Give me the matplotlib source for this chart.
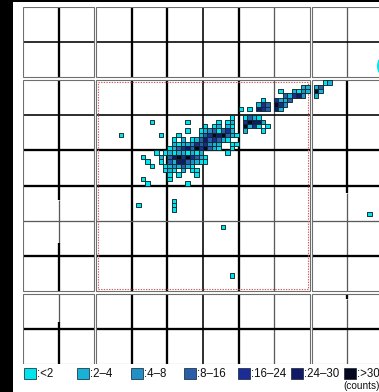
import matplotlib
matplotlib.use("Agg")
import matplotlib.pyplot as plt
from matplotlib.patches import Rectangle, Ellipse
from matplotlib.collections import PatchCollection
from matplotlib.colors import ListedColormap, BoundaryNorm
import numpy as np

W, H, DPI = 379, 392, 100

# ---------------- data: 2D histogram bins (u, v, counts) ----------------
# u, v are fine-bin indices inside the central block (8 bins per grid cell)
isolated = [(5, 35, 1), (12, 38, 1), (14, 35, 1), (20, 38, 1), (20, 36, 1),
            (32, 41, 1), (34, 41, 1), (9, 19, 1), (17, 20, 1), (17, 19, 1),
            (17, 18, 1), (28, 14, 1), (30, 3, 1), (61, 17, 1), (29, 31, 1),
            (24, 30, 1), (24, 29, 1)]

cluster_c2 = [(23, 36, 1), (18, 35, 1), (23, 35, 2),
              (17, 34, 1), (19, 34, 2), (21, 34, 1), (22, 34, 3), (23, 34, 12),
              (17, 33, 2), (18, 33, 1), (19, 33, 3), (20, 33, 2), (21, 33, 5),
              (22, 33, 20), (23, 33, 10),
              (16, 32, 1), (17, 32, 3), (18, 32, 8), (19, 32, 20), (20, 32, 26),
              (21, 32, 12), (22, 32, 30), (23, 32, 18)]

cluster_d2 = [(30, 39, 1), (27, 38, 1), (29, 38, 1), (30, 38, 2),
              (24, 37, 1), (26, 37, 1), (27, 37, 2), (29, 37, 3), (30, 37, 1),
              (24, 36, 2), (25, 36, 5), (26, 36, 10), (27, 36, 1), (28, 36, 8),
              (29, 36, 20), (30, 36, 3),
              (24, 35, 10), (25, 35, 20), (26, 35, 30), (27, 35, 26), (28, 35, 35),
              (29, 35, 12), (30, 35, 2), (31, 35, 1),
              (24, 34, 26), (25, 34, 12), (26, 34, 20), (27, 34, 8), (28, 34, 3),
              (29, 34, 1),
              (24, 33, 20), (25, 33, 6), (26, 33, 3), (27, 33, 2), (30, 33, 1),
              (31, 33, 1),
              (24, 32, 30), (25, 32, 10), (26, 32, 2), (27, 32, 1), (30, 32, 1)]

cluster_e2 = [(33, 39, 1), (34, 39, 12), (35, 39, 3), (36, 39, 1),
              (33, 38, 20), (34, 38, 35), (35, 38, 28), (36, 38, 26), (37, 38, 3),
              (33, 37, 30), (34, 37, 2), (35, 37, 18), (36, 37, 1), (38, 37, 1),
              (33, 36, 3), (37, 36, 1)]

cluster_e1 = [(37, 43, 1), (36, 42, 3), (37, 42, 20), (38, 42, 14),
              (36, 41, 26), (37, 41, 20), (38, 41, 10)]

cluster_f1 = [(41, 45, 1), (46, 46, 3), (47, 46, 2),
              (44, 45, 2), (45, 45, 1), (46, 45, 5), (47, 45, 3),
              (42, 44, 10), (43, 44, 3), (44, 44, 20), (45, 44, 28), (46, 44, 4),
              (40, 43, 18), (41, 43, 3), (42, 43, 2), (43, 43, 12),
              (40, 42, 35), (41, 42, 20), (42, 42, 6),
              (40, 41, 26), (41, 41, 2)]

cluster_right = [(51, 47, 1), (52, 47, 2), (49, 46, 2), (50, 46, 12),
                 (49, 45, 30), (50, 45, 3), (49, 44, 3)]

cluster_b3 = [(13, 31, 1), (15, 31, 1), (10, 30, 1), (14, 30, 2), (11, 29, 1),
              (14, 29, 1), (12, 28, 1), (15, 28, 1), (15, 27, 1), (10, 25, 1),
              (11, 24, 1)]

cluster_c3 = [(16, 31, 2), (17, 31, 1), (18, 31, 3), (19, 31, 2), (20, 31, 1),
              (21, 31, 3), (22, 31, 1), (23, 31, 2),
              (16, 30, 12), (17, 30, 26), (18, 30, 30), (19, 30, 20), (20, 30, 35),
              (21, 30, 18), (22, 30, 10), (23, 30, 3),
              (16, 29, 8), (17, 29, 3), (18, 29, 28), (19, 29, 26), (20, 29, 12),
              (21, 29, 6), (22, 29, 2), (23, 29, 1),
              (16, 28, 3), (17, 28, 5), (18, 28, 2), (19, 28, 10), (20, 28, 3),
              (21, 28, 1),
              (16, 27, 2), (17, 27, 1), (19, 27, 2), (21, 27, 1), (22, 27, 1),
              (16, 26, 1), (18, 26, 1), (22, 26, 1), (16, 25, 1), (20, 24, 1)]

count_edges = [0, 2, 4, 8, 16, 24, 30, 1000]
count_labels = [":<2", ":2\u20134", ":4\u20138", ":8\u201316", ":16\u201324",
                ":24\u201330", ":>30"]
count_colors = ["#00e4ee", "#18b2d6", "#2290c4", "#2a5ea8", "#1c2c96",
                "#121a68", "#06061e"]

# ---------------- figure ----------------
fig = plt.figure(figsize=(W / DPI, H / DPI), dpi=DPI)
fig.patch.set_facecolor("white")

def px(n):  # pixel -> points
    return n * 72.0 / DPI

# axes: pixel x 23..383, y 7..364
ax = fig.add_axes([23 / W, (H - 364) / H, 360 / W, 357 / H])
ax.set_xlim(-16.56, 64.56)
ax.set_ylim(-16.68, 64.68)
ax.axis("off")

blocks_u = [(-16.56, -0.56), (0, 48), (48.56, 64.56)]
blocks_v = [(-16.68, -0.68), (0, 48), (48.68, 64.68)]

styles = {"thick": ("#000000", px(2.3)), "med": ("#000000", px(1.6)),
          "thin": ("#5a5a5a", px(1.3))}

# vertical internal lines: (u, v0, v1, style)
vlines = [(-8.56, 48.68, 64.68, "thick"), (-8.56, 20.6, 48, "thick"),
          (-8.56, 11, 20.6, "thin"), (-8.56, 0, 11, "thick"),
          (-8.56, -7.0, -0.68, "thin"), (-8.56, -16.68, -7.0, "thick"),
          (56.56, 48.68, 64.68, "thin"), (56.56, 22.4, 48, "thick"),
          (56.56, 0, 22.4, "thin"), (56.56, -1.8, -0.68, "thick"),
          (56.56, -16.68, -1.8, "thin")]
for uu, st in [(8, "thick"), (16, "thick"), (24, "med"), (32, "thick"), (40, "thin")]:
    for v0, v1 in blocks_v:
        vlines.append((uu, v0, v1, st))
for uu, v0, v1, st in vlines:
    c, lw = styles[st]
    ax.plot([uu, uu], [v0, v1], color=c, lw=lw, solid_capstyle="butt", zorder=2)

hl = [(56.68, "med"), (40, "med"), (32, "thick"), (24, "thick"), (16, "thin"),
      (8, "thick"), (-8.68, "thick")]
for vv, st in hl:
    c, lw = styles[st]
    for u0, u1 in blocks_u:
        ax.plot([u0, u1], [vv, vv], color=c, lw=lw, solid_capstyle="butt", zorder=2)

# block borders
for u0, u1 in blocks_u:
    for v0, v1 in blocks_v:
        ax.add_patch(Rectangle((u0, v0), u1 - u0, v1 - v0, fill=False,
                               edgecolor="#6e6e6e", lw=px(1.1), zorder=3))

# red dotted region box
ax.add_patch(Rectangle((0.3, 0.3), 47.4, 47.4, fill=False, edgecolor="#cc5a5a",
                       lw=px(1.1), linestyle=(0, (1.2, 1.2)), zorder=4))

# histogram squares
allbins = (isolated + cluster_c2 + cluster_d2 + cluster_e2 + cluster_e1 +
           cluster_f1 + cluster_right + cluster_b3 + cluster_c3)
bu = np.array([b[0] for b in allbins])
bv = np.array([b[1] for b in allbins])
bc = np.array([b[2] for b in allbins])

cmap = ListedColormap(count_colors)
norm = BoundaryNorm(count_edges, cmap.N)
rects = [Rectangle((u, v), 1, 1) for u, v in zip(bu, bv)]
pc = PatchCollection(rects, cmap=cmap, norm=norm, edgecolor="#0c2a30",
                     linewidth=px(0.9), zorder=5)
pc.set_array(bc)
ax.add_collection(pc)

# partial cyan marker at the right edge
ax.add_patch(Ellipse((64.7, 51.2), 2.7, 4.1, color="#00e8f0", zorder=5,
                     clip_on=False))

# ---------------- legend ----------------
for i, (lab, col) in enumerate(zip(count_labels, count_colors)):
    x0 = 24 + i * 53.4
    fig.patches.append(Rectangle((x0 / W, (H - 379) / H), 12 / W, 11 / H,
                                 transform=fig.transFigure, facecolor=col,
                                 edgecolor="#203040", lw=px(0.8)))
    fig.text((x0 + 13) / W, (H - 374) / H, lab, fontsize=8.3,
             family="Liberation Sans", va="center", ha="left", color="#101010")
fig.text(343 / W, (H - 386) / H, "(counts)", fontsize=7.2,
         family="Liberation Sans", va="center", ha="left", color="#101010")

# black frame strips
fig.patches.append(Rectangle((0, 0), 13 / W, 1, transform=fig.transFigure,
                             facecolor="black", edgecolor="none"))
fig.patches.append(Rectangle((0, 1 - 2 / H), 1, 2 / H, transform=fig.transFigure,
                             facecolor="black", edgecolor="none"))

fig.savefig("out.png", dpi=DPI)
